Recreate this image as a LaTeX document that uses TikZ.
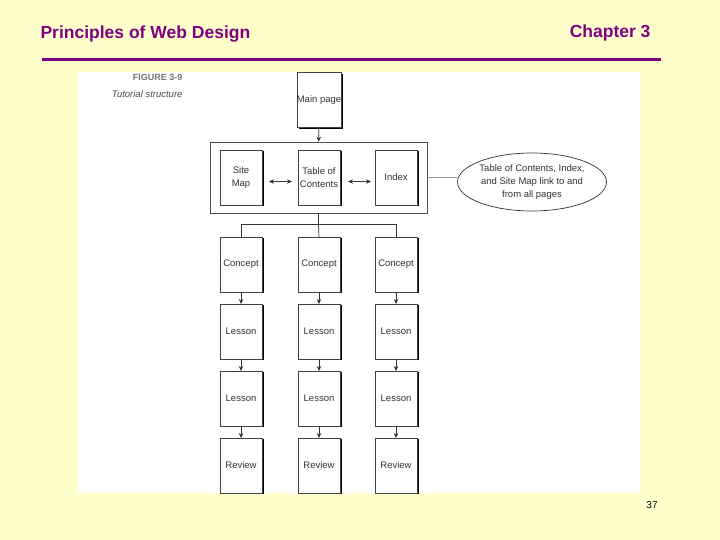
\documentclass[tikz,border=0pt]{standalone}
\usepackage{fontspec}
\setmainfont{Liberation Sans}
\usetikzlibrary{arrows.meta, positioning, fit, shapes.geometric, shadows}
\definecolor{slidebg}{RGB}{255,255,204}
\definecolor{slidepurple}{RGB}{128,0,128}

\begin{document}
\begin{tikzpicture}[x=1pt, y=-1pt,
    page/.style={rectangle, draw=black!75, fill=white, line width=0.6pt, minimum width=42pt, minimum height=55pt, inner sep=0pt, outer sep=0pt, align=center, text=black!80, font=\fontsize{9.5}{13}\selectfont, general shadow={shadow xshift=2pt, shadow yshift=-1.2pt, fill=black}},
    group/.style={rectangle, draw=black!70, line width=0.7pt, inner xsep=10pt, inner ysep=8pt},
    note/.style={ellipse, draw=black!80, line width=0.7pt, fill=white, minimum width=149pt, minimum height=58pt, inner sep=0pt, align=center, text=black!80, font=\fontsize{9.5}{13}\selectfont},
    arrow/.style={-{Stealth[length=5pt, width=4.5pt]}, line width=0.7pt, black!80},
    darrow/.style={{Stealth[length=5pt, width=4.5pt]}-{Stealth[length=5pt, width=4.5pt]}, line width=0.7pt, black!80},
    tree/.style={line width=0.7pt, black!80},
    header/.style={slidepurple, font=\fontsize{17.5}{20}\selectfont\bfseries}]

    % slide background and header
    \fill[slidebg] (0,0) rectangle (720,540);
    \fill[white] (78,72) rectangle (640,493);
    \node[header, anchor=west] (title) at (37,34) {Principles of Web Design};
    \node[header, anchor=east] (chapter) at (654,33) {Chapter 3};
    \draw[slidepurple, line width=3pt] (42,60) -- (661,60);
    \node[anchor=east, font=\fontsize{9}{10}\selectfont\bfseries, text=black!55] (fignum) at (186,77) {FIGURE 3-9};
    \node[anchor=east, font=\fontsize{9.5}{11}\selectfont\itshape, text=black!70] (figcap) at (186,94) {Tutorial structure};

    % main page and link pages
    \node[page] (main) at (319,100) {Main page};
    \node[page, below=22.5pt of main] (toc) {Table of\\Contents};
    \node[page, left=36pt of toc] (sitemap) {Site\\Map};
    \node[page, right=35pt of toc] (index) {Index};
    \node[group, fit=(sitemap)(index)] (links) {};
    \draw[arrow] (main) -- (links);
    \draw[darrow, shorten <=7pt, shorten >=6pt] ([yshift=-4pt]sitemap.east) -- ([yshift=-4pt]toc.west);
    \draw[darrow, shorten <=8pt, shorten >=4pt] ([yshift=-4pt]toc.east) -- ([yshift=-4pt]index.west);
    \node[note] (note) at (532,182) {Table of Contents, Index,\\and Site Map link to and\\from all pages};
    \draw[black!40, line width=0.6pt] (links.east) -- (links.east -| note.west);

    % left column
    \node[page, below=32pt of sitemap] (concept1) {Concept};
    \node[page, below=12pt of concept1] (lessonA1) {Lesson};
    \node[page, below=12pt of lessonA1] (lessonB1) {Lesson};
    \node[page, below=12pt of lessonB1] (review1) {Review};
    % middle column
    \node[page, below=32pt of toc] (concept2) {Concept};
    \node[page, below=12pt of concept2] (lessonA2) {Lesson};
    \node[page, below=12pt of lessonA2] (lessonB2) {Lesson};
    \node[page, below=12pt of lessonB2] (review2) {Review};
    % right column
    \node[page, below=32pt of index] (concept3) {Concept};
    \node[page, below=12pt of concept3] (lessonA3) {Lesson};
    \node[page, below=12pt of lessonA3] (lessonB3) {Lesson};
    \node[page, below=12pt of lessonB3] (review3) {Review};

    % tree from the link group
    \draw[tree] (links.south) -- ++(0,11) coordinate (split);
    \draw[tree] (concept1.north) |- (split) -| (concept3.north);
    \draw[tree] (split) -- (concept2.north);

    \draw[arrow] (concept1) -- (lessonA1);
    \draw[arrow] (lessonA1) -- (lessonB1);
    \draw[arrow] (lessonB1) -- (review1);
    \draw[arrow] (concept2) -- (lessonA2);
    \draw[arrow] (lessonA2) -- (lessonB2);
    \draw[arrow] (lessonB2) -- (review2);
    \draw[arrow] (concept3) -- (lessonA3);
    \draw[arrow] (lessonA3) -- (lessonB3);
    \draw[arrow] (lessonB3) -- (review3);

    \node[font=\fontsize{10}{12}\selectfont] (pagenum) at (652,505) {37};
\end{tikzpicture}
\end{document}
